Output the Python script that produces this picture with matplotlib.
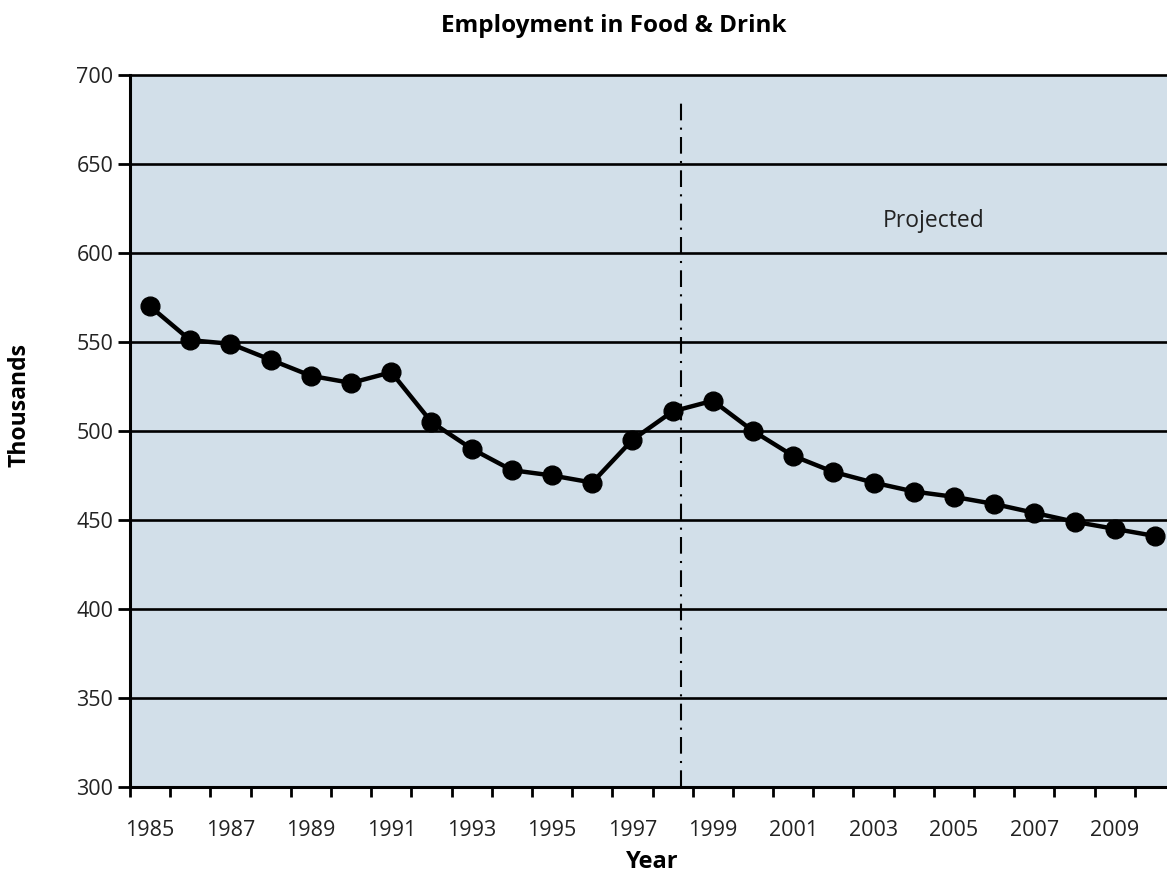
import numpy as np
import matplotlib
matplotlib.use('Agg')
import matplotlib.pyplot as plt
from matplotlib.ticker import FixedLocator

# Employment in food & drink (thousands), actual to 1998 then projected
years = list(range(1985, 2011))
employment = [570, 551, 549, 540, 531, 527, 533, 505, 490, 478, 475, 471, 495,
              511, 517, 500, 486, 477, 471, 466, 463, 459, 454, 449, 445, 441]
label_years = list(range(1985, 2011, 2))
y_ticks = [300, 350, 400, 450, 500, 550, 600, 650, 700]
split_year = 1998.2

plt.rcParams['font.family'] = ['Open Sans', 'DejaVu Sans']

fig = plt.figure(figsize=(11.67, 8.75), dpi=100)
ax = fig.add_axes([0.1114, 0.1006, 0.8955, 0.8137])
ax.set_facecolor('#d2dfe9')

ax.set_xlim(1984.5, 2010.5)
ax.set_ylim(300, 700)

# horizontal grid lines
for v in y_ticks[1:]:
    ax.axhline(v, color='black', lw=1.9, zorder=1, clip_on=False)

# actual / projected divider
ax.plot([split_year, split_year], [300, 685], color='black', lw=1.5,
        linestyle=(0, (8, 3.5, 1, 3.5)), zorder=2)

ax.plot(years, employment, color='black', lw=3.2, marker='o', markersize=13.5,
        zorder=3, clip_on=False)

ax.text(2004.5, 618, 'Projected', fontsize=16.5, ha='center', va='center',
        color='#222222')

# ticks: marks on category edges, labels on odd years
ax.xaxis.set_major_locator(FixedLocator(np.arange(1984.5, 2011, 1)))
ax.xaxis.set_minor_locator(FixedLocator(label_years))
ax.xaxis.set_major_formatter(plt.NullFormatter())
ax.xaxis.set_minor_formatter(plt.FixedFormatter([str(y) for y in label_years]))
ax.tick_params(axis='x', which='major', length=7.5, width=2, direction='out',
               color='black')
ax.tick_params(axis='x', which='minor', length=0, pad=24, labelsize=15.5,
               labelcolor='#222222')

ax.set_yticks(y_ticks)
ax.tick_params(axis='y', length=8.5, width=2, pad=3.5, labelsize=15.5,
               labelcolor='#222222')

for side in ['top', 'right']:
    ax.spines[side].set_visible(False)
for side in ['left', 'bottom']:
    ax.spines[side].set_linewidth(2.2)
    ax.spines[side].set_zorder(4)

ax.set_xlabel('Year', fontsize=17, fontweight='bold', labelpad=6)
fig.text(0.017, 0.537, 'Thousands', rotation=90, fontsize=16.5,
         fontweight='bold', ha='center', va='center')
fig.text(0.5255, 0.9634, 'Employment in Food & Drink', fontsize=17.5,
         fontweight='bold', ha='center', va='baseline')

fig.savefig('out.png', dpi=100)
